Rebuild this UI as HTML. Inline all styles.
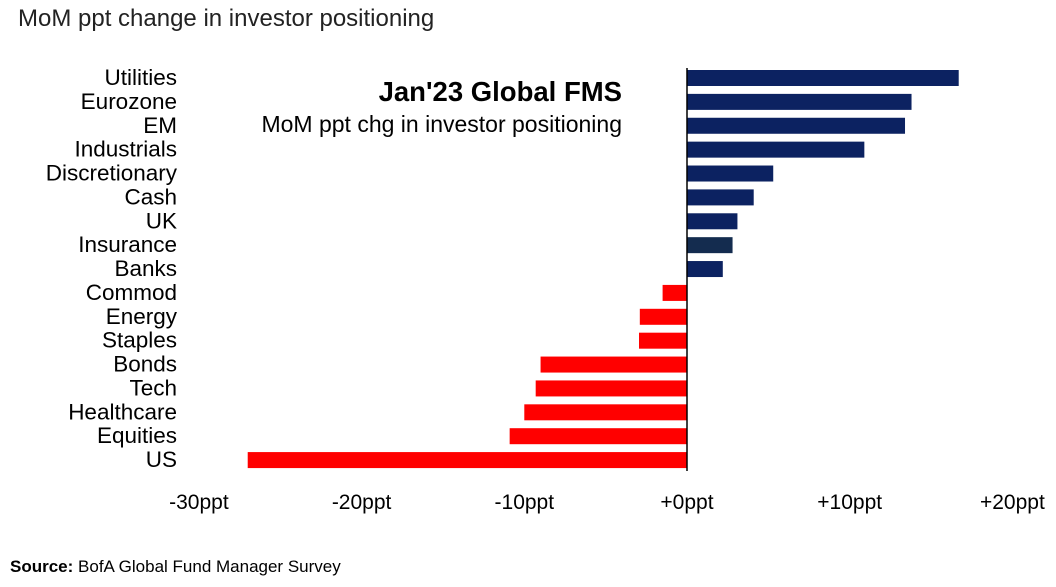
<!DOCTYPE html>
<html><head><meta charset="utf-8"><style>
body{margin:0;background:#fff;width:1056px;height:582px;overflow:hidden;font-family:"Liberation Sans Narrow","Liberation Sans",sans-serif;}
</style></head><body>
<svg width="1056" height="582" xmlns="http://www.w3.org/2000/svg">
<text x="18" y="26" font-size="24" fill="#222">MoM ppt change in investor positioning</text>
<text x="622" y="101" font-size="27.5" font-weight="bold" text-anchor="end" fill="#000">Jan'23 Global FMS</text>
<text x="622" y="132" font-size="23" text-anchor="end" fill="#000">MoM ppt chg in investor positioning</text>
<g id="bars"></g>
<g id="labels"></g>
<g id="ticks"></g>
<line x1="687" y1="68" x2="687" y2="471" stroke="#000" stroke-width="1.5"/>
<text x="10" y="572" font-size="17" fill="#000"><tspan font-weight="bold">Source:</tspan> BofA Global Fund Manager Survey</text>
</svg>
<script>
const categories=["Utilities","Eurozone","EM","Industrials","Discretionary","Cash","UK","Insurance","Banks","Commod","Energy","Staples","Bonds","Tech","Healthcare","Equities","US"];
const values=[16.7,13.8,13.4,10.9,5.3,4.1,3.1,2.8,2.2,-1.5,-2.9,-2.95,-9.0,-9.3,-10.0,-10.9,-27.0];
const tickValues=[-30,-20,-10,0,10,20];
const tickLabels=["-30ppt","-20ppt","-10ppt","+0ppt","+10ppt","+20ppt"];
const NS="http://www.w3.org/2000/svg";
const x=v=>687+v*16.27;
const y=i=>78+i*23.88;
const bars=document.getElementById('bars'),labels=document.getElementById('labels'),ticks=document.getElementById('ticks');
categories.forEach((c,i)=>{
  const v=values[i];
  const r=document.createElementNS(NS,'rect');
  r.setAttribute('x',Math.min(x(0),x(v)));
  r.setAttribute('y',y(i)-8);
  r.setAttribute('width',Math.abs(x(v)-x(0)));
  r.setAttribute('height',16);
  r.setAttribute('fill',v>=0?(c==="Insurance"?"#142c4f":"#0c2261"):"#ff0000");
  
  
  bars.appendChild(r);
  const t=document.createElementNS(NS,'text');
  t.setAttribute('x',177);t.setAttribute('y',y(i)+7);
  t.setAttribute('text-anchor','end');t.setAttribute('font-size','22.5');t.setAttribute('fill','#000');
  t.textContent=c;
  
  
  labels.appendChild(t);
});
tickValues.forEach((v,i)=>{
  const t=document.createElementNS(NS,'text');
  t.setAttribute('x',x(v));t.setAttribute('y',509);
  t.setAttribute('text-anchor','middle');t.setAttribute('font-size','21');t.setAttribute('fill','#000');
  t.textContent=tickLabels[i];
  
  
  ticks.appendChild(t);
});
</script>
</body></html>
